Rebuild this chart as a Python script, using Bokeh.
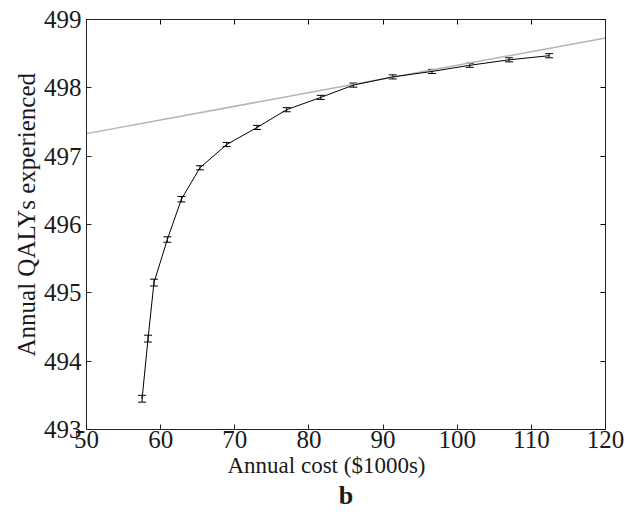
from bokeh.plotting import figure
from bokeh.models import ColumnDataSource, Whisker, TeeHead, LinearAxis, FixedTicker, Range1d, Title
from bokeh.embed import file_html
from bokeh.resources import INLINE

cost = [57.5, 58.3, 59.1, 60.9, 62.8, 65.3, 68.9, 73.0, 77.0, 81.6, 86.0, 91.3, 96.6, 101.7, 107.0, 112.4]
qaly = [493.45, 494.33, 495.15, 495.78, 496.37, 496.83, 497.17, 497.42, 497.68, 497.86, 498.04, 498.16, 498.24, 498.33, 498.41, 498.47]
err = [0.05, 0.05, 0.05, 0.04, 0.04, 0.03, 0.03, 0.03, 0.03, 0.03, 0.03, 0.03, 0.03, 0.03, 0.03, 0.03]
ref_x = [50, 120]
ref_y = [497.33, 498.73]
x_ticks = [50, 60, 70, 80, 90, 100, 110, 120]
y_ticks = [493, 494, 495, 496, 497, 498, 499]

FONT = "Liberation Serif"

p = figure(frame_width=519, frame_height=410, output_backend="svg", toolbar_location=None,
           x_range=Range1d(50, 120), y_range=Range1d(493, 499),
           min_border_left=86, min_border_right=20, min_border_top=19, min_border_bottom=0)
p.grid.visible = False
p.outline_line_color = "#222222"
p.background_fill_color = "white"
p.border_fill_color = "white"

p.line(ref_x, ref_y, color="#b4b4b4", line_width=1.5)

src = ColumnDataSource(dict(x=cost, y=qaly,
                            lo=[q - e for q, e in zip(qaly, err)],
                            hi=[q + e for q, e in zip(qaly, err)]))
p.line("x", "y", source=src, color="black", line_width=1)
w = Whisker(source=src, base="x", lower="lo", upper="hi", dimension="height",
            line_color="black", line_width=1,
            upper_head=TeeHead(size=8, line_color="black", line_width=1),
            lower_head=TeeHead(size=8, line_color="black", line_width=1))
p.add_layout(w)

for ax in (p.xaxis[0], p.yaxis[0]):
    ax.major_tick_in = 5
    ax.major_tick_out = 0
    ax.minor_tick_in = 0
    ax.minor_tick_out = 0
    ax.axis_line_color = "#222222"
    ax.major_tick_line_color = "#222222"
    ax.major_label_text_font = FONT
    ax.major_label_text_font_size = "25px"
    ax.major_label_text_color = "#1a1a1a"

p.xaxis.ticker = FixedTicker(ticks=x_ticks)
p.yaxis.ticker = FixedTicker(ticks=y_ticks)
p.xaxis.major_label_standoff = 1
p.yaxis.major_label_standoff = 5

top = LinearAxis(ticker=FixedTicker(ticks=x_ticks), major_tick_in=5, major_tick_out=0,
                 minor_tick_in=0, minor_tick_out=0, major_label_text_alpha=0,
                 major_label_text_font_size="1px", axis_line_color="#222222")
right = LinearAxis(ticker=FixedTicker(ticks=y_ticks), major_tick_in=5, major_tick_out=0,
                   minor_tick_in=0, minor_tick_out=0, major_label_text_alpha=0,
                   major_label_text_font_size="1px", axis_line_color="#222222")
p.add_layout(top, "above")
p.add_layout(right, "right")

p.add_layout(Title(text="Annual QALYs experienced", align="left", text_font=FONT,
                   text_font_size="25px", text_font_style="normal", text_color="#1a1a1a",
                   standoff=2, offset=73), "left")
p.add_layout(Title(text="Annual cost ($1000s)", align="left", text_font=FONT,
                   text_font_size="23px", text_font_style="normal", text_color="#1a1a1a",
                   standoff=0, offset=141), "below")
p.add_layout(Title(text="b", align="center", text_font=FONT, text_font_size="26px",
                   text_font_style="bold", text_color="#1a1a1a", standoff=3, offset=0), "below")

open("out.html", "w").write(file_html(p, INLINE))
